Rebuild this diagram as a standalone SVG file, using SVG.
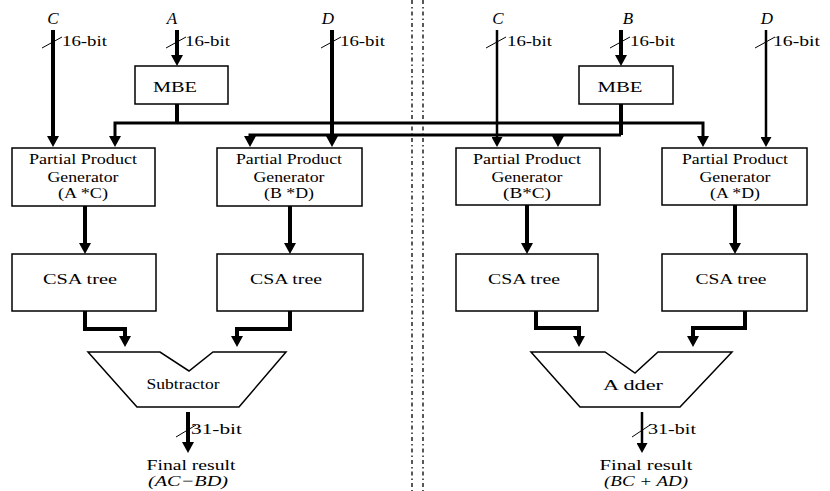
<svg xmlns="http://www.w3.org/2000/svg" width="830" height="491" viewBox="0 0 830 491">
<defs>
<marker id="ah" markerUnits="userSpaceOnUse" markerWidth="11" markerHeight="12" viewBox="0 0 11 12" refX="0" refY="6" orient="auto">
<path d="M0,0 L11,6 L0,12 z" fill="#000"/>
</marker>
<marker id="ahs" markerUnits="userSpaceOnUse" markerWidth="10" markerHeight="11" viewBox="0 0 10 11" refX="0" refY="5.5" orient="auto">
<path d="M0,0 L10,5.5 L0,11 z" fill="#000"/>
</marker>
</defs>
<style>
.box{fill:#fff;stroke:#000;stroke-width:1.5}
.t{font-family:"Liberation Serif","Times New Roman",serif;font-size:15px;fill:#000}
.lbl{font-family:"Liberation Serif","Times New Roman",serif;font-size:17px;font-style:italic;fill:#000}
.w{fill:none;stroke:#000;stroke-width:4}
.wt{fill:none;stroke:#000;stroke-width:2.5}
.bus{fill:none;stroke:#000;stroke-width:3}
.sl{stroke:#000;stroke-width:1}
.div{stroke:#222;stroke-width:1.5;stroke-dasharray:4 3 1.5 3}
</style>
<rect width="830" height="491" fill="#fff"/>

<g id="dividers">
<line class="div" x1="412" y1="0" x2="412" y2="491"/>
<line class="div" x1="423" y1="0" x2="423" y2="491"/>
</g>

<g id="connectors">
<path class="w" d="M53,30 V136" marker-end="url(#ah)"/>
<path class="w" d="M177,30 V55" marker-end="url(#ah)"/>
<path class="w" d="M332,30 V136" marker-end="url(#ah)"/>
<path class="w" d="M177,104 V123"/>
<path class="bus" d="M115,136 V123 H703 V136"/>
<path d="M109,136 L121,136 L115,147 z" fill="#000"/>
<path d="M697,136 L709,136 L703,147 z" fill="#000"/>
<path class="wt" d="M497,30 V137" marker-end="url(#ahs)"/>
<path class="w" d="M621,30 V55" marker-end="url(#ah)"/>
<path class="wt" d="M766,30 V137" marker-end="url(#ahs)"/>
<path class="w" d="M621,104 V135"/>
<path class="bus" d="M621,135 H250 V137"/>
<path d="M244,136 L256,136 L250,147 z" fill="#000"/>
<path class="bus" d="M558,135 V137"/>
<path d="M552,136 L564,136 L558,147 z" fill="#000"/>
<path class="w" d="M85,206 V243" marker-end="url(#ah)"/>
<path class="w" d="M290,206 V243" marker-end="url(#ah)"/>
<path class="w" d="M527,205 V243" marker-end="url(#ah)"/>
<path class="w" d="M735,205 V243" marker-end="url(#ah)"/>
<path class="w" d="M85,311 V329 H125 V336" marker-end="url(#ah)"/>
<path class="w" d="M290,311 V329 H237 V336" marker-end="url(#ah)"/>
<path class="w" d="M536,311 V328 H579 V336" marker-end="url(#ah)"/>
<path class="w" d="M745,311 V328 H693 V336" marker-end="url(#ah)"/>
<path class="w" d="M188,412 V442" marker-end="url(#ah)"/>
<path class="wt" d="M642,412 V443" marker-end="url(#ahs)"/>
<line class="sl" x1="42" y1="48" x2="62" y2="37"/>
<line class="sl" x1="166" y1="48" x2="186" y2="37"/>
<line class="sl" x1="321" y1="48" x2="341" y2="37"/>
<line class="sl" x1="486" y1="48" x2="506" y2="37"/>
<line class="sl" x1="610" y1="48" x2="630" y2="37"/>
<line class="sl" x1="755" y1="48" x2="775" y2="37"/>
<line class="sl" x1="176" y1="437" x2="196" y2="425"/>
<line class="sl" x1="632" y1="437" x2="650" y2="425"/>
</g>

<g id="labels">
<text class="lbl" x="53" y="24" text-anchor="middle">C</text>
<text class="lbl" x="172" y="24" text-anchor="middle">A</text>
<text class="lbl" x="328" y="24" text-anchor="middle">D</text>
<text class="lbl" x="498" y="24" text-anchor="middle">C</text>
<text class="lbl" x="628" y="24" text-anchor="middle">B</text>
<text class="lbl" x="767" y="24" text-anchor="middle">D</text>
<text class="t" x="62" y="46" textLength="45" lengthAdjust="spacingAndGlyphs">16-bit</text>
<text class="t" x="185" y="46" textLength="45" lengthAdjust="spacingAndGlyphs">16-bit</text>
<text class="t" x="340" y="46" textLength="45" lengthAdjust="spacingAndGlyphs">16-bit</text>
<text class="t" x="507" y="46" textLength="45" lengthAdjust="spacingAndGlyphs">16-bit</text>
<text class="t" x="630" y="46" textLength="45" lengthAdjust="spacingAndGlyphs">16-bit</text>
<text class="t" x="773" y="46" textLength="47" lengthAdjust="spacingAndGlyphs">16-bit</text>
<text class="t" x="191" y="434" textLength="51" lengthAdjust="spacingAndGlyphs">31-bit</text>
<text class="t" x="648" y="434" textLength="48" lengthAdjust="spacingAndGlyphs">31-bit</text>
</g>

<g id="mbe-a">
<rect class="box" x="135" y="66" width="93" height="38"/>
<text class="t" x="175" y="92" text-anchor="middle" textLength="44" lengthAdjust="spacingAndGlyphs">MBE</text>
</g>
<g id="mbe-b">
<rect class="box" x="579" y="66" width="94" height="38"/>
<text class="t" x="620" y="92" text-anchor="middle" textLength="45" lengthAdjust="spacingAndGlyphs">MBE</text>
</g>

<g id="ppg-ac">
<rect class="box" x="12" y="148" width="143" height="58"/>
<text class="t" x="83" y="164" text-anchor="middle" textLength="108" lengthAdjust="spacingAndGlyphs">Partial Product</text>
<text class="t" x="83" y="182" text-anchor="middle" textLength="71" lengthAdjust="spacingAndGlyphs">Generator</text>
<text class="t" x="83" y="198" text-anchor="middle" textLength="50" lengthAdjust="spacingAndGlyphs">(A *C)</text>
</g>
<g id="ppg-bd">
<rect class="box" x="217" y="148" width="145" height="58"/>
<text class="t" x="289" y="164" text-anchor="middle" textLength="106" lengthAdjust="spacingAndGlyphs">Partial Product</text>
<text class="t" x="289" y="182" text-anchor="middle" textLength="71" lengthAdjust="spacingAndGlyphs">Generator</text>
<text class="t" x="289" y="198" text-anchor="middle" textLength="50" lengthAdjust="spacingAndGlyphs">(B *D)</text>
</g>
<g id="ppg-bc">
<rect class="box" x="456" y="148" width="144" height="57"/>
<text class="t" x="527" y="164" text-anchor="middle" textLength="108" lengthAdjust="spacingAndGlyphs">Partial Product</text>
<text class="t" x="527" y="182" text-anchor="middle" textLength="71" lengthAdjust="spacingAndGlyphs">Generator</text>
<text class="t" x="527" y="198" text-anchor="middle" textLength="48" lengthAdjust="spacingAndGlyphs">(B*C)</text>
</g>
<g id="ppg-ad">
<rect class="box" x="662" y="148" width="145" height="57"/>
<text class="t" x="735" y="164" text-anchor="middle" textLength="106" lengthAdjust="spacingAndGlyphs">Partial Product</text>
<text class="t" x="735" y="182" text-anchor="middle" textLength="71" lengthAdjust="spacingAndGlyphs">Generator</text>
<text class="t" x="735" y="198" text-anchor="middle" textLength="50" lengthAdjust="spacingAndGlyphs">(A *D)</text>
</g>

<g id="csa-1">
<rect class="box" x="12" y="254" width="144" height="57"/>
<text class="t" x="80" y="284" text-anchor="middle" textLength="74" lengthAdjust="spacingAndGlyphs">CSA tree</text>
</g>
<g id="csa-2">
<rect class="box" x="217" y="254" width="146" height="57"/>
<text class="t" x="286" y="284" text-anchor="middle" textLength="72" lengthAdjust="spacingAndGlyphs">CSA tree</text>
</g>
<g id="csa-3">
<rect class="box" x="456" y="254" width="142" height="57"/>
<text class="t" x="524" y="284" text-anchor="middle" textLength="72" lengthAdjust="spacingAndGlyphs">CSA tree</text>
</g>
<g id="csa-4">
<rect class="box" x="662" y="254" width="145" height="57"/>
<text class="t" x="731" y="284" text-anchor="middle" textLength="71" lengthAdjust="spacingAndGlyphs">CSA tree</text>
</g>

<g id="subtractor">
<polygon class="box" points="88,352 160,352 189,371 213,352 286,352 239,407 137,407"/>
<text class="t" x="183" y="389" text-anchor="middle" textLength="73" lengthAdjust="spacingAndGlyphs">Subtractor</text>
</g>
<g id="adder">
<polygon class="box" points="531,352 605,352 635,373 658,352 732,352 680,407 580,407"/>
<text class="t" x="633" y="390" text-anchor="middle" textLength="60" lengthAdjust="spacingAndGlyphs">A dder</text>
</g>

<g id="result-1">
<text class="t" x="191" y="470" text-anchor="middle" textLength="89" lengthAdjust="spacingAndGlyphs">Final result</text>
<text class="t" x="188" y="486" text-anchor="middle" font-style="italic" font-size="14" textLength="80" lengthAdjust="spacingAndGlyphs">(AC−BD)</text>
</g>
<g id="result-2">
<text class="t" x="646" y="470" text-anchor="middle" textLength="93" lengthAdjust="spacingAndGlyphs">Final result</text>
<text class="t" x="646" y="486" text-anchor="middle" font-style="italic" font-size="14" textLength="84" lengthAdjust="spacingAndGlyphs">(BC + AD)</text>
</g>
</svg>
